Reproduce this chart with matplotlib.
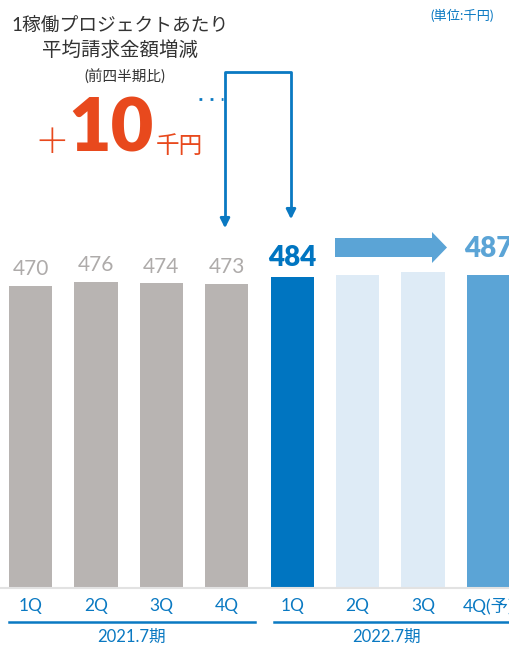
import matplotlib.pyplot as plt
from matplotlib.patches import FancyArrow

plt.rcParams['font.family'] = ['Lato', 'Noto Sans CJK JP', 'DejaVu Sans']

quarters = ['1Q', '2Q', '3Q', '4Q', '1Q', '2Q', '3Q', '4Q(予)']
values = [470, 476, 474, 473, 484, 487, 492, 487]
shown = ['470', '476', '474', '473', '484', '', '', '487']
colors = ['#b8b4b2', '#b8b4b2', '#b8b4b2', '#b8b4b2', '#0075c1', '#deebf6', '#deebf6', '#5ba4d6']
years = ['2021.7期', '2022.7期']

blue = '#0a79c2'
red = '#e8491d'

fig = plt.figure(figsize=(5.1, 6.45), dpi=100)
ax = fig.add_axes([0, 58 / 645, 1, 587 / 645])
step = 65.43
ax.set_xlim(-30.5 / step, (510 - 30.5) / step)
ax.set_ylim(0, 587 * 1.5614)
ax.bar(range(8), values, width=0.66, color=colors)
for s in ax.spines.values():
    s.set_visible(False)
ax.set_yticks([])
ax.set_xticks(range(8), quarters)
ax.tick_params(axis='x', length=0, pad=8, labelsize=12.5, labelcolor=blue)

for i, (v, t) in enumerate(zip(values, shown)):
    if not t:
        continue
    if i < 4:
        ax.annotate(t, (i, v), xytext=(0, 12), textcoords='offset points', ha='center', va='center',
                    fontsize=15, color='#aeabaa')
    elif i == 4:
        ax.annotate(t, (i, v), xytext=(0, 13.5), textcoords='offset points', ha='center', va='center',
                    fontsize=20, color='#0075c1', fontweight='heavy')
    else:
        ax.annotate(t, (i, v), xytext=(0, 18.5), textcoords='offset points', ha='center', va='center',
                    fontsize=20, color='#5ba4d6', fontweight='heavy')

# overlay in pixel coordinates
ov = fig.add_axes([0, 0, 1, 1], facecolor='none')
ov.set_xlim(0, 510)
ov.set_ylim(645, 0)
ov.axis('off')

ov.plot([0, 510], [588, 588], color='#e2e2e2', lw=1.5)
ov.plot([9, 255], [621.5, 621.5], color=blue, lw=1.8)
ov.plot([274, 510], [621.5, 621.5], color=blue, lw=1.8)
ov.text(132, 637, years[0], ha='center', va='center', fontsize=12, color=blue)
ov.text(387, 637, years[1], ha='center', va='center', fontsize=12, color=blue)

ov.add_patch(FancyArrow(335, 247.5, 112, 0, width=19, head_width=31, head_length=15,
                        length_includes_head=True, color='#5ba4d6', lw=0))

ov.plot([225, 225, 291, 291], [222, 72, 72, 212], color=blue, lw=2)
ov.annotate('', xy=(225, 231), xytext=(225, 215),
            arrowprops=dict(arrowstyle='-|>', color=blue, lw=2, mutation_scale=14))
ov.annotate('', xy=(291, 222), xytext=(291, 206),
            arrowprops=dict(arrowstyle='-|>', color=blue, lw=2, mutation_scale=14))
ov.plot([199, 223], [99, 99], color=blue, lw=2, ls=(0, (1, 3)))

ov.text(120, 25, '1稼働プロジェクトあたり', ha='center', va='center', fontsize=13.5, color='#333333')
ov.text(120, 50, '平均請求金額増減', ha='center', va='center', fontsize=14, color='#333333')
ov.text(125, 77, '(前四半期比)', ha='center', va='center', fontsize=10.5, color='#333333')
ov.text(52, 143, '＋', ha='center', va='center', fontsize=25, color=red,
        family=['Noto Sans CJK JP'], fontweight='light')
ov.text(111, 131, '10', ha='center', va='center', fontsize=53, color=red, fontweight='heavy')
ov.text(179, 146, '千円', ha='center', va='center', fontsize=17, color=red)
ov.text(462, 15, '(単位:千円)', ha='center', va='center', fontsize=9.5, color=blue)

fig.savefig('out.png', dpi=100)
